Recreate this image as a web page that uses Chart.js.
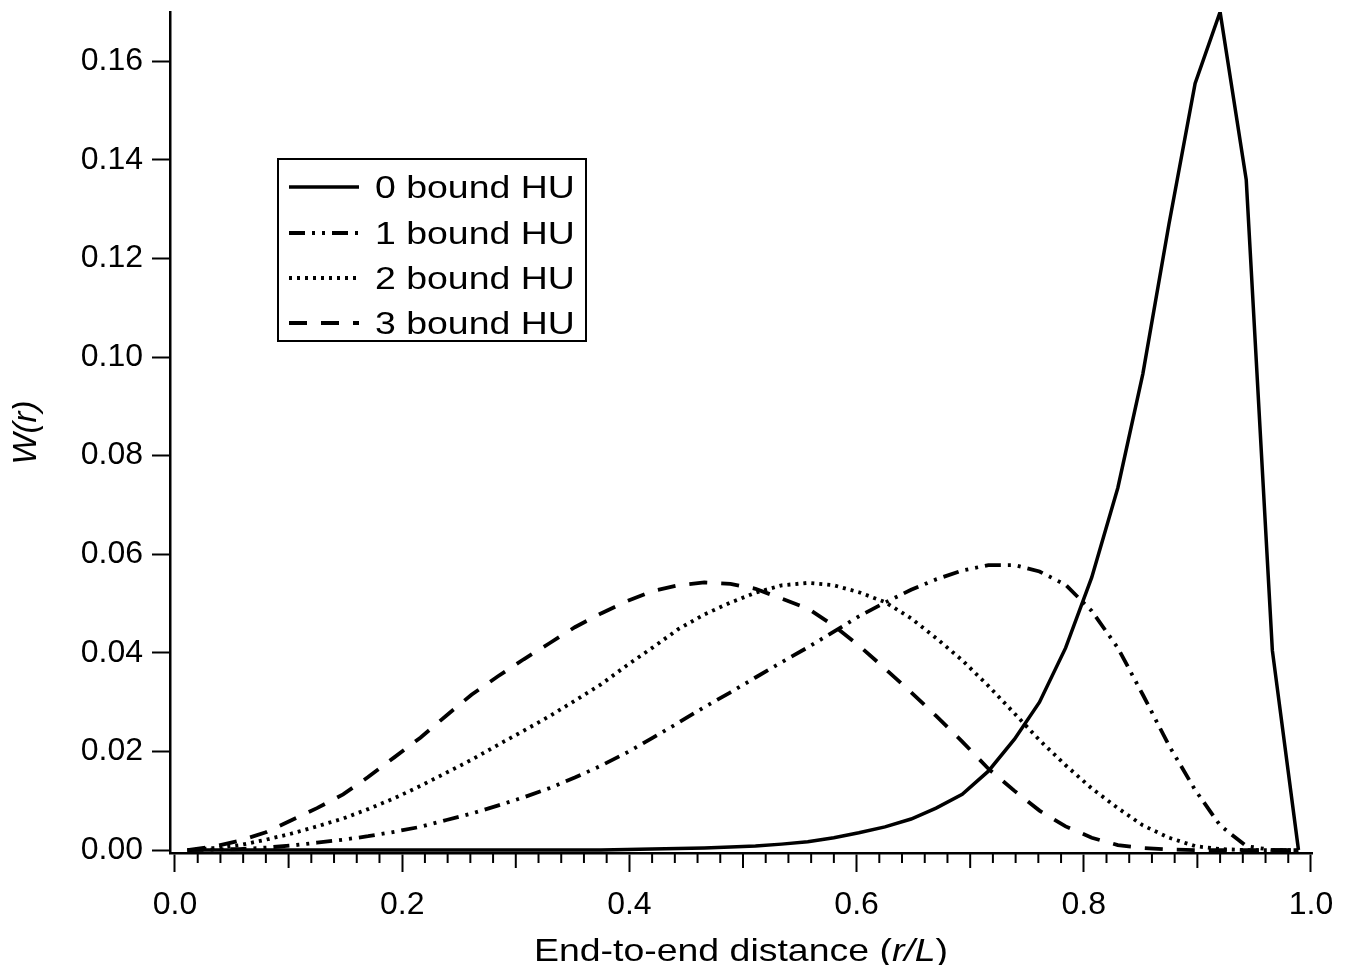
<!DOCTYPE html>
<html><head><meta charset="utf-8">
<script src="https://cdn.jsdelivr.net/npm/chart.js@4/dist/chart.umd.min.js"></script>
<style>html,body{margin:0;padding:0;background:#fff;}</style>
</head><body>
<canvas id="c" width="1353" height="965"></canvas>
<script>
// ---- data ----
const rOverL = [0.011,0.034,0.057,0.080,0.102,0.125,0.148,0.170,0.193,0.216,0.239,0.261,0.284,0.307,0.330,0.352,0.375,0.398,0.420,0.443,0.466,0.489,0.511,0.534,0.557,0.580,0.602,0.625,0.648,0.670,0.693,0.716,0.739,0.761,0.784,0.807,0.830,0.852,0.875,0.898,0.920,0.943,0.966,0.989];
const bound0 = [0,0,0,0,0,0,0,0,0,0,0,0,0,0,0,0,0,0.0001,0.0002,0.0003,0.0004,0.0006,0.0008,0.0012,0.0017,0.0025,0.0035,0.0047,0.0063,0.0085,0.0113,0.0160,0.0225,0.0300,0.0410,0.0553,0.0735,0.0966,0.127,0.1555,0.170,0.136,0.0405,0.0];
const bound1 = [0.0000,0.0001,0.0002,0.0005,0.0009,0.0015,0.0021,0.0028,0.0037,0.0047,0.0061,0.0074,0.0090,0.0107,0.0126,0.0147,0.0171,0.0198,0.0227,0.0258,0.0290,0.0320,0.0350,0.0381,0.0411,0.0443,0.0474,0.0502,0.0528,0.0549,0.0567,0.0578,0.0578,0.0565,0.0538,0.0485,0.0410,0.0315,0.0212,0.0122,0.0050,0.0008,0.0000,0.0000];
const bound2 = [0.0000,0.0004,0.0010,0.0021,0.0033,0.0048,0.0064,0.0083,0.0105,0.0130,0.0157,0.0183,0.0213,0.0242,0.0272,0.0303,0.0336,0.0375,0.0410,0.0448,0.0478,0.0502,0.0522,0.0537,0.0542,0.0537,0.0523,0.0503,0.0470,0.0430,0.0385,0.0333,0.0277,0.0223,0.0172,0.0125,0.0085,0.0050,0.0025,0.0008,0.0002,0,0,0];
const bound3 = [0.0000,0.0007,0.0019,0.0036,0.0060,0.0085,0.0113,0.0148,0.0188,0.0228,0.0273,0.0315,0.0352,0.0387,0.0420,0.0452,0.0480,0.0505,0.0525,0.0537,0.0543,0.0540,0.0530,0.0510,0.0490,0.0455,0.0415,0.0368,0.0320,0.0272,0.0220,0.0165,0.0120,0.0080,0.0048,0.0025,0.0010,0.0004,0.0001,0,0,0,0,0];
const seriesLabels = ['0 bound HU','1 bound HU','2 bound HU','3 bound HU'];
const xTickValues = [0.0,0.2,0.4,0.6,0.8,1.0];
const yTickValues = [0.00,0.02,0.04,0.06,0.08,0.10,0.12,0.14,0.16];
const xMinorTickValues = [0.02,0.04,0.06,0.08,0.10,0.12,0.14,0.16,0.18,0.22,0.24,0.26,0.28,0.30,0.32,0.34,0.36,0.38,0.42,0.44,0.46,0.48,0.50,0.52,0.54,0.56,0.58,0.62,0.64,0.66,0.68,0.70,0.72,0.74,0.76,0.78,0.82,0.84,0.86,0.88,0.90,0.92,0.94,0.96,0.98];
const xTitleParts = [['End-to-end distance (', 'normal'], ['r/L', 'italic'], [')', 'normal']];
const yTitle = 'W(r)';

const FAM = '"Liberation Sans", Arial, Helvetica, sans-serif';
const STRETCH = 1.17;

const decorPlugin = {
  id: 'decor',
  afterDraw(chart) {
    const ctx = chart.ctx, xs = chart.scales.x, area = chart.chartArea;
    ctx.save();
    // minor x ticks
    ctx.strokeStyle = '#000'; ctx.lineWidth = 2; ctx.setLineDash([]);
    xMinorTickValues.forEach(v => {
      const px = xs.getPixelForValue(v);
      const len = (Math.round(v * 100) % 10 === 0) ? 15 : 10;
      ctx.beginPath(); ctx.moveTo(px, area.bottom); ctx.lineTo(px, area.bottom + len); ctx.stroke();
    });
    // x title (mixed italic), horizontally stretched
    let total = 0;
    xTitleParts.forEach(p => { ctx.font = p[1] + ' 32px ' + FAM; total += ctx.measureText(p[0]).width; });
    const cx = (area.left + area.right) / 2;
    ctx.translate(cx, 961); ctx.scale(STRETCH, 1);
    let x = -total / 2;
    ctx.fillStyle = '#000'; ctx.textBaseline = 'alphabetic'; ctx.textAlign = 'left';
    xTitleParts.forEach(p => { ctx.font = p[1] + ' 32px ' + FAM; ctx.fillText(p[0], x, 0); x += ctx.measureText(p[0]).width; });
    ctx.restore();

    // legend box
    ctx.save();
    const bx = 278, by = 159, bw = 308, bh = 182;
    ctx.fillStyle = '#fff'; ctx.fillRect(bx, by, bw, bh);
    ctx.strokeStyle = '#000'; ctx.lineWidth = 2; ctx.strokeRect(bx, by, bw, bh);
    const baselines = [198, 244, 289, 334];
    chart.data.datasets.forEach((ds, i) => {
      const yb = baselines[i];
      ctx.save();
      ctx.strokeStyle = '#000'; ctx.lineWidth = ds.borderWidth; ctx.setLineDash(ds.borderDash || []);
      ctx.beginPath(); ctx.moveTo(289, yb - 11); ctx.lineTo(359, yb - 11); ctx.stroke();
      ctx.restore();
      ctx.save();
      ctx.translate(375, yb); ctx.scale(STRETCH, 1);
      ctx.font = 'normal 32px ' + FAM; ctx.fillStyle = '#000'; ctx.textAlign = 'left'; ctx.textBaseline = 'alphabetic';
      ctx.fillText(ds.label, 0, 0);
      ctx.restore();
    });
    ctx.restore();
  }
};

const mk = arr => rOverL.map((x, i) => ({ x: x, y: arr[i] }));

new Chart(document.getElementById('c'), {
  type: 'line',
  data: {
    datasets: [
      { label: seriesLabels[0], data: mk(bound0), borderColor: '#000', borderWidth: 3.5, borderDash: [], pointRadius: 0, tension: 0, fill: false },
      { label: seriesLabels[1], data: mk(bound1), borderColor: '#000', borderWidth: 3.8, borderDash: [16, 7, 3, 7, 3, 7], pointRadius: 0, tension: 0, fill: false },
      { label: seriesLabels[2], data: mk(bound2), borderColor: '#000', borderWidth: 3.8, borderDash: [3, 5], pointRadius: 0, tension: 0, fill: false },
      { label: seriesLabels[3], data: mk(bound3), borderColor: '#000', borderWidth: 3.8, borderDash: [18, 14], pointRadius: 0, tension: 0, fill: false }
    ]
  },
  options: {
    responsive: false, animation: false, devicePixelRatio: 1,
    layout: { padding: { top: 12, right: 41, left: 0, bottom: 0 } },
    plugins: { legend: { display: false }, tooltip: { enabled: false } },
    scales: {
      x: {
        type: 'linear', min: -0.0044, max: 1.0009,
        afterBuildTicks: s => { s.ticks = xTickValues.map(v => ({ value: v })); },
        afterFit: s => { s.height = 112; s.paddingLeft = 0; s.paddingRight = 0; },
        ticks: { callback: v => Number(v).toFixed(1), font: { family: FAM, size: 32 }, color: '#000', padding: 14, autoSkip: false, maxRotation: 0 },
        grid: { display: true, drawOnChartArea: false, drawTicks: true, tickLength: 19, tickWidth: 2, tickColor: '#000' },
        border: { display: true, color: '#000', width: 2.5 }
      },
      y: {
        type: 'linear', min: -0.0006, max: 0.17,
        afterBuildTicks: s => { s.ticks = yTickValues.map(v => ({ value: v })); },
        afterFit: s => { s.width = 170; s.paddingTop = 0; s.paddingBottom = 0; },
        ticks: { callback: v => Number(v).toFixed(2), font: { family: FAM, size: 32 }, color: '#000', padding: 9 },
        grid: { display: true, drawOnChartArea: false, drawTicks: true, tickLength: 18, tickWidth: 2, tickColor: '#000' },
        border: { display: true, color: '#000', width: 2.5 },
        title: { display: true, text: yTitle, font: { family: FAM, size: 33, style: 'italic' }, color: '#000', padding: { top: 7, bottom: 0 } }
      }
    }
  },
  plugins: [decorPlugin]
});
</script>
</body></html>
